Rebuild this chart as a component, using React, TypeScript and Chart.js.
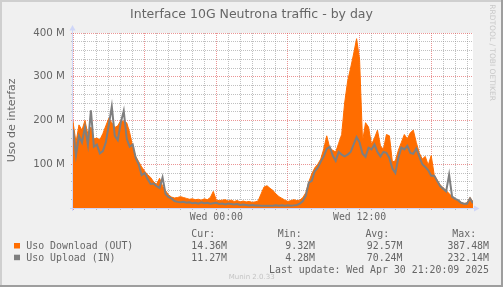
import React, { useEffect, useRef } from 'react';
import { Chart, registerables } from 'chart.js';

Chart.register(...registerables);

// ---- data (M units, 15-minute steps starting Tue 12:00) ----
const stepHours = 0.25;
const download = [
  197, 150, 190, 178, 200, 168, 185, 158, 160, 156, 170, 188, 205, 195, 184, 188, 200, 198, 195, 172,
  140, 118, 106, 94, 84, 76, 70, 60, 54, 68, 50, 40, 30, 25, 23, 24, 26, 24, 22, 20,
  21, 19, 20, 18, 21, 19, 24, 38, 18, 17, 18, 19, 16, 18, 15, 17, 14, 16, 14, 15,
  13, 14, 16, 32, 48, 51, 45, 40, 32, 26, 22, 18, 15, 17, 19, 17, 18, 24, 35, 60,
  78, 92, 100, 112, 135, 165, 138, 132, 128, 148, 168, 240, 290, 320, 352, 387, 340, 152, 195, 185,
  145, 160, 178, 142, 134, 168, 165, 105, 108, 132, 150, 168, 158, 172, 178, 150, 126, 112, 118, 98,
  120, 76, 64, 53, 46, 40, 33, 26, 21, 17, 13, 10, 12, 24, 14,
];
const upload = [
  180, 120, 165, 150, 185, 145, 223, 140, 145, 125, 130, 150, 190, 232, 165, 155, 195, 222, 158, 140,
  145, 115, 100, 75, 80, 66, 55, 56, 50, 46, 70, 32, 25, 22, 16, 14, 13, 14, 12, 13,
  11, 12, 10, 13, 11, 12, 10, 11, 12, 9, 10, 8, 10, 9, 8, 9, 7, 8, 7, 6,
  7, 6, 6, 5, 5, 5, 5, 5, 6, 5, 6, 5, 6, 5, 6, 7, 10, 16, 28, 58,
  62, 84, 92, 106, 118, 135, 140, 120, 108, 128, 122, 118, 122, 128, 145, 162, 150, 124, 117, 138,
  134, 145, 128, 118, 128, 126, 114, 90, 80, 115, 138, 134, 142, 126, 124, 136, 118, 100, 94, 86,
  74, 74, 62, 50, 44, 38, 76, 26, 21, 18, 12, 10, 10, 22, 11,
];
const xMaxHours = 33.5;
const xTickHours = Array.from({ length: 34 }, (_, h) => h);
const xTickLabels: { hour: number; text: string }[] = [
  { hour: 12, text: 'Wed 00:00' },
  { hour: 24, text: 'Wed 12:00' },
];
const yMax = 400;
const yTickValues = Array.from({ length: 21 }, (_, k) => k * 20);
const yLabelEvery = 100;

const title = 'Interface 10G Neutrona traffic - by day';
const yAxisTitle = 'Uso de interfaz';
const seriesNames = ['Uso Download (OUT)', 'Uso Upload (IN)'];
const statHeaders = ['Cur:', 'Min:', 'Avg:', 'Max:'];
const downloadStats = ['14.36M', '9.32M', '92.57M', '387.48M'];
const uploadStats = ['11.27M', '4.28M', '70.24M', '232.14M'];
const lastUpdate = 'Last update: Wed Apr 30 21:20:09 2025';
const watermark = 'Munin 2.0.33';
const sideMark = 'RRDTOOL / TOBI OETIKER';

// ---- styles ----
const ORANGE = '#ff6d00';
const GRAY = '#7f7f7f';
const FONT_COLOR = '#666666';
const AXIS_COLOR = '#CFD6F8';
const GRID = 'rgba(140,140,140,0.55)';
const MGRID = 'rgba(222,79,79,0.6)';
const SANS = '"DejaVu Sans", sans-serif';
const MONO = '"DejaVu Sans Mono", monospace';

const decor = {
  id: 'decor',
  beforeDraw(chart: any) {
    const { ctx, width, height, chartArea: a } = chart;
    ctx.save();
    ctx.fillStyle = '#F0F0F0';
    ctx.fillRect(0, 0, width, height);
    ctx.fillStyle = '#CFCFCF';
    ctx.fillRect(0, 0, width, 2);
    ctx.fillRect(0, 0, 2, height);
    ctx.fillStyle = '#9E9E9E';
    ctx.fillRect(0, height - 2, width, 2);
    ctx.fillRect(width - 2, 0, 2, height);
    ctx.fillStyle = '#FFFFFF';
    ctx.fillRect(a.left, a.top, a.right - a.left, a.bottom - a.top);
    ctx.restore();
  },
  afterDatasetsDraw(chart: any) {
    const { ctx, chartArea: a } = chart;
    ctx.save();
    ctx.strokeStyle = AXIS_COLOR;
    ctx.fillStyle = AXIS_COLOR;
    ctx.lineWidth = 1;
    const ax = a.left - 0.5;
    const ay = a.bottom + 0.5;
    ctx.beginPath();
    ctx.moveTo(ax, a.bottom + 3);
    ctx.lineTo(ax, a.top - 3);
    ctx.moveTo(a.left - 3, ay);
    ctx.lineTo(a.right + 2, ay);
    ctx.stroke();
    ctx.beginPath();
    ctx.moveTo(ax - 3, a.top - 2.5);
    ctx.lineTo(ax + 3, a.top - 2.5);
    ctx.lineTo(ax, a.top - 8);
    ctx.closePath();
    ctx.fill();
    ctx.beginPath();
    ctx.moveTo(a.right + 1, ay - 3);
    ctx.lineTo(a.right + 1, ay + 3);
    ctx.lineTo(a.right + 6.5, ay);
    ctx.closePath();
    ctx.fill();
    ctx.restore();
  },
  afterDraw(chart: any) {
    const { ctx } = chart;
    ctx.save();
    ctx.fillStyle = FONT_COLOR;
    ctx.textBaseline = 'alphabetic';
    // title
    ctx.font = `12.5px ${SANS}`;
    ctx.textAlign = 'center';
    ctx.fillText(title, 251.5, 18.3);
    // vertical axis title
    ctx.save();
    ctx.translate(15, 120.3);
    ctx.rotate(-Math.PI / 2);
    ctx.font = `11.1px ${SANS}`;
    ctx.textAlign = 'center';
    ctx.fillText(yAxisTitle, 0, 0);
    ctx.restore();
    // legend
    ctx.font = `9.9px ${MONO}`;
    const headerX = [191.3, 277.8, 365.4, 452.3];
    const valueRight = [227, 315, 402.5, 489];
    ctx.textAlign = 'left';
    statHeaders.forEach((h, k) => ctx.fillText(h, headerX[k], 237.3));
    const rows = [
      { name: seriesNames[0], color: ORANGE, stats: downloadStats, y: 249 },
      { name: seriesNames[1], color: GRAY, stats: uploadStats, y: 260.7 },
    ];
    rows.forEach((r) => {
      ctx.fillStyle = r.color;
      ctx.fillRect(14, r.y - 6, 6, 5.5);
      ctx.fillStyle = FONT_COLOR;
      ctx.textAlign = 'left';
      ctx.fillText(r.name, 26.3, r.y);
      ctx.textAlign = 'right';
      r.stats.forEach((s, k) => ctx.fillText(s, valueRight[k], r.y));
    });
    ctx.textAlign = 'right';
    ctx.fillText(lastUpdate, 489, 272.6);
    // watermarks
    ctx.fillStyle = '#c4c4c4';
    ctx.font = `7px ${SANS}`;
    ctx.textAlign = 'center';
    ctx.fillText(watermark, 251.7, 279);
    ctx.save();
    ctx.translate(490, 4.3);
    ctx.rotate(Math.PI / 2);
    ctx.font = `7.5px ${SANS}`;
    ctx.textAlign = 'left';
    ctx.fillStyle = '#c8c8c8';
    ctx.fillText(sideMark, 0, 0);
    ctx.restore();
    ctx.restore();
  },
};

export default function App() {
  const ref = useRef<HTMLCanvasElement>(null);
  useEffect(() => {
    const canvas = ref.current;
    if (!canvas) return;
    const downloadPts = download.map((v, i) => ({ x: i * stepHours, y: v }));
    const uploadPts = upload.map((v, i) => ({ x: i * stepHours, y: v }));
    const chart = new Chart(canvas, {
      type: 'line',
      data: {
        datasets: [
          {
            label: seriesNames[1],
            data: uploadPts,
            borderColor: GRAY,
            backgroundColor: GRAY,
            borderWidth: 2,
            pointRadius: 0,
            fill: false,
            tension: 0,
            order: 1,
          },
          {
            label: seriesNames[0],
            data: downloadPts,
            borderColor: ORANGE,
            backgroundColor: ORANGE,
            borderWidth: 1,
            pointRadius: 0,
            fill: 'origin',
            tension: 0,
            order: 2,
          },
        ],
      },
      options: {
        responsive: false,
        animation: false,
        devicePixelRatio: 1,
        events: [],
        layout: { padding: { left: 0, right: 30, top: 33, bottom: 59 } },
        plugins: {
          legend: { display: false },
          tooltip: { enabled: false },
          title: { display: false },
        },
        scales: {
          x: {
            type: 'linear',
            min: 0,
            max: xMaxHours,
            afterBuildTicks: (s: any) => {
              s.ticks = xTickHours.map((h) => ({ value: h }));
            },
            afterFit: (s: any) => {
              s.height = 20;
            },
            ticks: {
              autoSkip: false,
              maxRotation: 0,
              padding: 2,
              color: FONT_COLOR,
              font: { family: 'DejaVu Sans Mono', size: 9.8 },
              callback: (v: any) => {
                const f = xTickLabels.find((t) => t.hour === v);
                return f ? f.text : '';
              },
            },
            grid: {
              color: (c: any) => (c.tick && c.tick.value % 6 === 0 ? MGRID : GRID),
              lineWidth: 1,
              tickLength: 2,
            },
            border: { display: false, dash: [1, 1] },
          },
          y: {
            type: 'linear',
            min: 0,
            max: yMax,
            afterBuildTicks: (s: any) => {
              s.ticks = yTickValues.map((v) => ({ value: v }));
            },
            afterFit: (s: any) => {
              s.width = 73;
            },
            ticks: {
              autoSkip: false,
              padding: 6,
              color: FONT_COLOR,
              font: { family: 'DejaVu Sans', size: 10.3 },
              callback: (v: any) => (v > 0 && v % yLabelEvery === 0 ? `${v} M` : ''),
            },
            grid: {
              color: (c: any) => (c.tick && c.tick.value % yLabelEvery === 0 ? MGRID : GRID),
              lineWidth: 1,
              tickLength: 2,
            },
            border: { display: false, dash: [1, 1] },
          },
        },
      },
      plugins: [decor],
    } as any);
    return () => chart.destroy();
  }, []);
  return (
    <div style={{ position: 'fixed', left: 0, top: 0, width: 503, height: 287 }}>
      <canvas ref={ref} width={503} height={287} style={{ display: 'block' }} />
    </div>
  );
}
